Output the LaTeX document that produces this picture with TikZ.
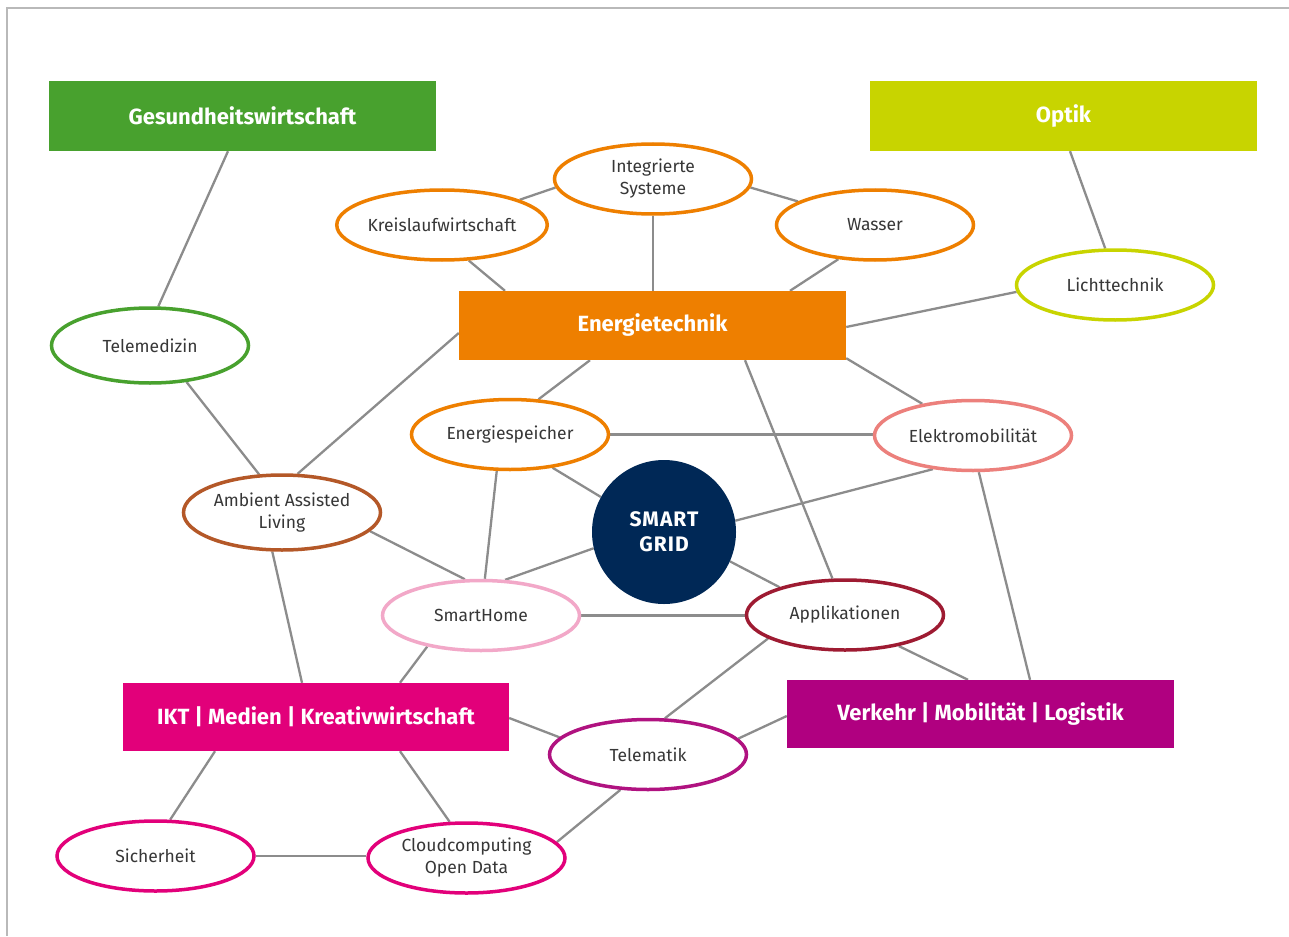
\documentclass[tikz,border=0pt]{standalone}
\usepackage{fontspec}
\setmainfont{Fira Sans}
\usetikzlibrary{shapes.geometric,backgrounds}

\definecolor{linegray}{RGB}{140,140,140}
\definecolor{framegray}{RGB}{185,185,185}
\definecolor{textgray}{RGB}{55,55,55}
\definecolor{cgreen}{RGB}{72,161,46}
\definecolor{clime}{RGB}{200,212,0}
\definecolor{corange}{RGB}{238,127,0}
\definecolor{cmagenta}{RGB}{226,0,122}
\definecolor{cpurple}{RGB}{176,0,128}
\definecolor{csalmon}{RGB}{236,128,124}
\definecolor{cbrown}{RGB}{180,88,40}
\definecolor{cpink}{RGB}{242,168,200}
\definecolor{cdarkred}{RGB}{158,27,50}
\definecolor{ctelematik}{RGB}{176,18,128}
\definecolor{cnavy}{RGB}{0,40,86}

\begin{document}
\begin{tikzpicture}[x=1pt,y=-1pt,
  link/.style={draw=linegray,line width=2.3pt},
  sector/.style={rectangle,minimum width=387pt,minimum height=70pt,inner sep=0pt,
    text=white,font=\fontsize{22}{26}\selectfont\bfseries},
  topic/.style={ellipse,draw,line width=3.5pt,fill=white,minimum width=197pt,
    minimum height=70pt,inner sep=0pt,text=textgray,align=center,
    font=\fontsize{17.5}{22}\selectfont}]

\useasboundingbox (0,0) rectangle (1289,936);

% sector boxes
\node[sector,fill=cgreen] (gw) at (242.5,116) {Gesundheitswirtschaft};
\node[sector,fill=clime] (op) at (1063.5,116) {Optik};
\node[sector,fill=corange,minimum height=69pt] (et) at (652.5,325.5) {Energietechnik};
\node[sector,fill=cmagenta,minimum width=386pt,minimum height=68pt] (ikt) at (316,717) {IKT | Medien | Kreativwirtschaft};
\node[sector,fill=cpurple,minimum height=68pt] (vk) at (980.5,714) {Verkehr | Mobilität | Logistik};

% topic ellipses
\node[topic,draw=corange] (is) at (653,179) {Integrierte\\Systeme};
\node[topic,draw=corange] (kw) at (442,225) {Kreislaufwirtschaft};
\node[topic,draw=corange] (ws) at (875,225) {Wasser};
\node[topic,draw=cgreen,minimum height=75pt] (tm) at (150,345.5) {Telemedizin};
\node[topic,draw=clime] (lt) at (1115,285) {Lichttechnik};
\node[topic,draw=corange] (es) at (510,434.5) {Energiespeicher};
\node[topic,draw=csalmon] (em) at (973,435.5) {Elektromobilität};
\node[topic,draw=cbrown,minimum height=75pt] (aal) at (282,512.5) {Ambient Assisted\\Living};
\node[topic,draw=cpink] (sh) at (481,615.5) {SmartHome};
\node[topic,draw=cdarkred] (ap) at (845,615) {Applikationen};
\node[topic,draw=ctelematik] (tk) at (648,754.5) {Telematik};
\node[topic,draw=cmagenta] (si) at (155.5,856) {Sicherheit};
\node[topic,draw=cmagenta] (cc) at (466.5,858) {Cloudcomputing\\Open Data};

% hub
\node[circle,fill=cnavy,minimum size=144pt,inner sep=0pt,text=white,align=center,
  font=\fontsize{21}{25}\selectfont\bfseries\addfontfeatures{LetterSpace=5}] (sg) at (664,532) {SMART\\GRID};

\begin{scope}[on background layer]
  \fill[white] (0,0) rectangle (1289,936);
  \draw[framegray,line width=1.5pt] (1289,8) -- (7,8) -- (7,936);

  \draw[link] ([xshift=-14.5pt]gw.south) -- (tm.78);
  \draw[link] (tm.-45) -- (aal.121);
  \draw[link] (aal.68) -- ([yshift=-7.5pt]et.west);
  \draw[link] (aal.-12) -- (sh.114);
  \draw[link] (aal.256) -- ([xshift=-14pt]ikt.north);
  \draw[link] (kw.18) -- (is.185);
  \draw[link] (is.355) -- (ws.163);
  \draw[link] (kw.307) -- ([xshift=-147.5pt]et.north);
  \draw[link] (is.south) -- (is.south |- et.north);
  \draw[link] (ws.223) -- ([xshift=137.5pt]et.north);
  \draw[link] ([xshift=6.5pt]op.south) -- (lt.105);
  \draw[link] (lt.184) -- ([yshift=-1.5pt]et.east);
  \draw[link] ([xshift=-62.5pt]et.south) -- (es.51);
  \draw[link] ([yshift=2pt]et.south east) -- (em.148);
  \draw[link] ([xshift=92.5pt]et.south) -- (ap.109);
  \draw[link] (es.east) -- (es.east -| em.west);
  \draw[link] (es.322) -- (sg.151);
  \draw[link] (es.250) -- (sh.84);
  \draw[link] (em.220) -- (sg.9);
  \draw[link] (em.279) -- ([xshift=49.5pt]vk.north);
  \draw[link] (sg.193) -- (sh.56);
  \draw[link] (sg.336) -- (ap.157);
  \draw[link] (sh.east) -- (sh.east -| ap.west);
  \draw[link] (sh.210) -- ([xshift=84pt]ikt.north);
  \draw[link] (ap.197) -- (tk.65);
  \draw[link] (ap.330) -- ([xshift=-12.5pt]vk.north);
  \draw[link] ([yshift=-1pt]ikt.east) -- (tk.169);
  \draw[link] (tk.10) -- ([yshift=-2pt]vk.west);
  \draw[link] ([xshift=-101pt]ikt.south) -- (si.68);
  \draw[link] ([xshift=84pt]ikt.south) -- (cc.115);
  \draw[link] (si.east) -- (si.east -| cc.west);
  \draw[link] (tk.232) -- (cc.10);
\end{scope}
\end{tikzpicture}
\end{document}
